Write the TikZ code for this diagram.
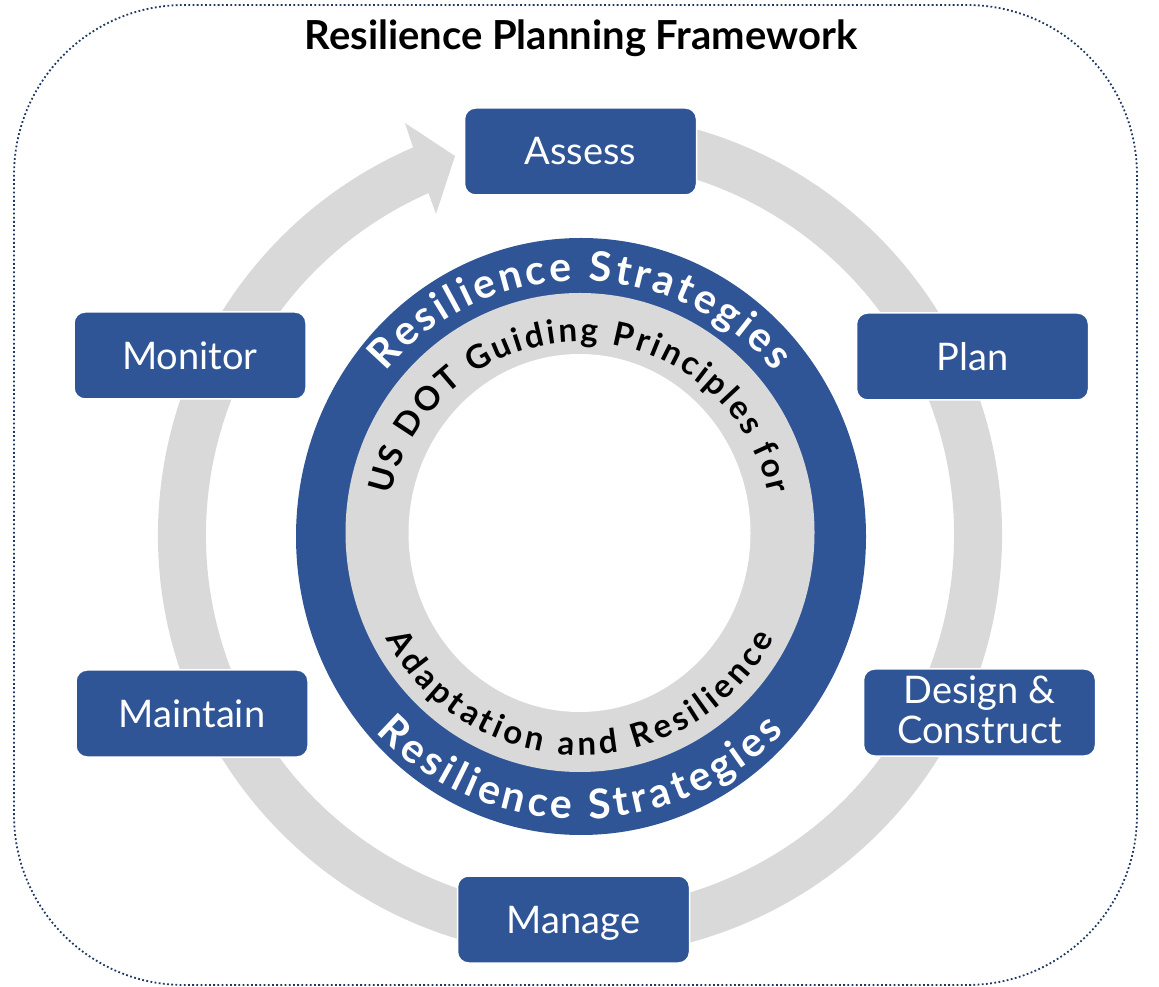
\documentclass[tikz,border=0pt]{standalone}
\usepackage{fontspec}
\usepackage{tikz}
\usetikzlibrary{decorations.text}
\setmainfont{Lato}
\definecolor{stepblue}{HTML}{2F5597}
\definecolor{ringgray}{HTML}{D9D9D9}
\definecolor{framenavy}{HTML}{1F3864}
\newcommand{\bandfont}{\fontsize{41}{41}\selectfont\bfseries\color{white}}
\newcommand{\corefont}{\fontsize{33}{33}\selectfont\bfseries\color{black}}
\tikzset{
  stepbox/.style={fill=stepblue,draw=white,line width=1.5pt,rounded corners=11pt,
    minimum width=232pt,minimum height=87pt,inner sep=0pt,align=center,
    text=white,font=\fontsize{38}{40}\selectfont},
}
\begin{document}
\begin{tikzpicture}[x=1pt,y=1pt]
\useasboundingbox (0,0) rectangle (1159,986);
\draw [framenavy,line width=1.8pt,dash pattern=on 1.8pt off 2.4pt,rounded corners=170pt]
  (14,1) rectangle (1137,981);
\node [font=\fontsize{40}{40}\selectfont\bfseries] (title) at (581,948) {Resilience Planning Framework};

\coordinate (hub) at (580,451);
\coordinate (barbout) at (405,863);
\coordinate (tip) at (455,830);
\coordinate (barbin) at (436,772);
\fill [ringgray] ([shift={(80:422)}]hub) arc [start angle=80,end angle=-246.7,radius=422]
  -- (barbout) -- (tip) -- (barbin)
  -- ([shift={(113.9:374)}]hub) arc [start angle=-246.1,end angle=80,radius=374] -- cycle;

\fill [stepblue] (581,449.5) ellipse [x radius=285,y radius=298.5];
\fill [ringgray] (580,453.5) ellipse [x radius=234.5,y radius=239.5];
\fill [white] (579.5,453) ellipse [x radius=171,y radius=179];

\path [decorate,decoration={text along path,text align=fit to path,
    text={|\bandfont|Resilience Strategies}}]
  ([shift={(140:254)}]hub) arc [start angle=140,end angle=40,radius=254];
\path [decorate,decoration={text along path,text align=fit to path,
    text={|\bandfont|Resilience Strategies}}]
  ([shift={(224:284)}]hub) arc [start angle=224,end angle=316,radius=284];
\path [decorate,decoration={text along path,text align=fit to path,
    text={|\corefont|US DOT Guiding Principles for}}]
  ([shift={(168:193)}]hub) arc [start angle=168,end angle=12,radius=193];
\path [decorate,decoration={text along path,text align=fit to path,
    text={|\corefont|Adaptation and Resilience}}]
  ([shift={(208:220)}]hub) arc [start angle=208,end angle=332,radius=220];

\node [stepbox] (assess) at (580.5,834.5) {Assess};
\node [stepbox] (plan) at (972.5,629.5) {Plan};
\node [stepbox,text depth=6pt] (design) at (979.5,273.5) {Design \&\\Construct};
\node [stepbox,text depth=0pt] (manage) at (573.5,66.5) {Manage};
\node [stepbox] (maintain) at (192,272.5) {Maintain};
\node [stepbox] (monitor) at (190,630.5) {Monitor};
\end{tikzpicture}
\end{document}
